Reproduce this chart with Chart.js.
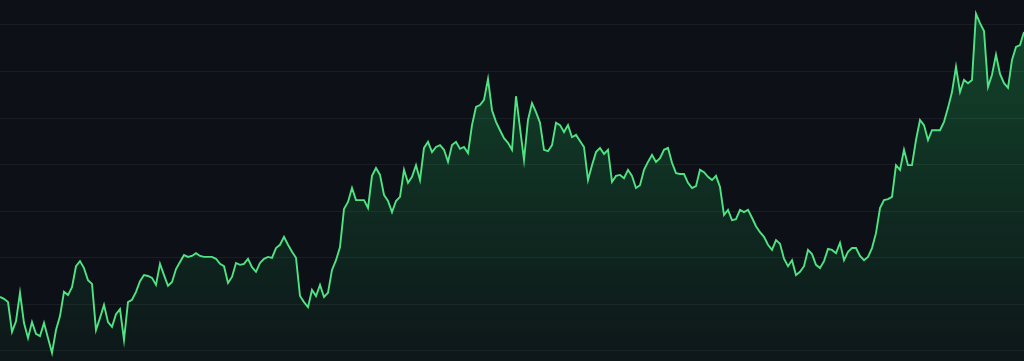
<!DOCTYPE html>
<html>
<head>
<meta charset="utf-8">
<script src="https://cdn.jsdelivr.net/npm/chart.js@4"></script>
<style>
  html, body { margin: 0; padding: 0; background: #0d1117; overflow: hidden; }
  #wrap { width: 1024px; height: 361px; }
</style>
</head>
<body>
<div id="wrap"><canvas id="c" width="1024" height="361"></canvas></div>
<script>
const prices = [
  111.6,111.2,110.5,104.1,106.4,112.5,106.0,102.8,106.2,103.7,103.2,106.0,102.8,99.6,104.5,107.5,
  112.7,112.0,113.7,118.2,119.3,117.8,115.2,114.4,104.5,107.1,109.9,106.2,105.2,107.9,109.0,102.4,
  110.5,111.0,112.7,115.0,116.3,116.1,115.7,114.2,118.7,116.3,114.0,114.8,117.6,119.1,120.6,120.2,
  120.4,121.0,120.4,120.2,120.2,120.2,119.8,118.7,118.2,114.6,115.9,118.9,118.5,118.7,119.8,118.0,
  117.0,118.9,119.8,120.2,120.0,122.1,122.8,124.5,122.8,121.3,120.0,111.8,110.5,109.4,113.1,111.8,
  114.2,111.6,112.5,117.4,119.5,122.3,130.5,132.0,135.0,132.4,132.4,132.4,130.7,137.6,139.3,137.8,
  133.5,132.2,129.8,132.2,133.1,138.9,136.1,137.4,139.9,136.7,143.6,144.9,142.7,143.8,144.2,143.2,
  140.6,144.2,144.9,143.4,143.8,142.5,148.5,152.4,152.8,153.9,158.4,151.7,149.2,147.4,145.7,144.7,
  143.2,154.7,147.9,141.0,149.6,153.2,151.3,149.0,143.2,142.9,144.2,149.0,148.5,147.0,148.5,145.9,
  146.4,145.1,143.8,136.7,139.9,142.7,143.6,142.3,143.2,136.3,137.6,137.8,137.1,138.9,137.6,135.0,
  135.6,138.9,140.6,142.1,140.6,141.4,143.2,143.6,140.4,138.2,138.0,138.0,136.1,135.0,135.4,138.9,
  138.4,137.4,136.7,137.6,135.2,129.2,130.3,128.1,128.3,130.3,129.8,130.3,128.6,126.8,125.5,124.5,
  122.8,121.7,123.8,123.0,119.8,118.2,119.5,116.3,117.0,118.2,121.7,120.8,118.5,117.8,119.3,121.9,
  121.7,121.0,123.2,119.5,121.3,122.1,122.1,120.4,119.5,120.2,122.1,125.3,130.7,132.4,132.6,133.1,
  139.9,138.9,143.2,139.9,139.9,145.3,149.6,148.5,145.3,147.4,147.4,147.4,149.2,152.2,155.6,161.0,
  155.6,158.2,157.5,158.2,172.4,170.4,168.7,156.7,159.3,163.6,159.5,157.5,156.5,162.5,165.3,165.7,
  168.5
];
const days = prices.map((_, i) => 'Day ' + (i + 1));
const yMin = 97.85;
const yMax = 175.36;
const gridStep = 10;

const ctx = document.getElementById('c').getContext('2d');
new Chart(ctx, {
  type: 'line',
  data: {
    labels: days,
    datasets: [{
      data: prices,
      borderColor: '#4fe383',
      borderWidth: 1.9,
      pointRadius: 0,
      tension: 0,
      fill: 'start',
      backgroundColor: (c) => {
        const chart = c.chart;
        const area = chart.chartArea;
        if (!area) return 'rgba(34,197,94,0.15)';
        const g = chart.ctx.createLinearGradient(0, area.top, 0, area.bottom);
        g.addColorStop(0, 'rgba(34,197,94,0.30)');
        g.addColorStop(1, 'rgba(34,197,94,0.03)');
        return g;
      }
    }]
  },
  options: {
    responsive: false,
    animation: false,
    layout: { padding: 0 },
    plugins: { legend: { display: false }, tooltip: { enabled: false } },
    scales: {
      x: { display: false },
      y: {
        min: yMin,
        max: yMax,
        ticks: { display: false, stepSize: gridStep, includeBounds: false },
        grid: { color: 'rgba(255,255,255,0.055)', drawTicks: false, lineWidth: 1 },
        border: { display: false }
      }
    }
  }
});
</script>
</body>
</html>
